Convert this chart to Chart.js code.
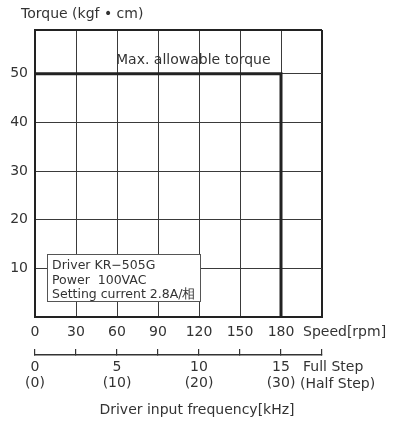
<!DOCTYPE html>
<html>
<head>
<meta charset="utf-8">
<script src="https://cdn.jsdelivr.net/npm/chart.js@4/dist/chart.umd.min.js"></script>
<style>
  html, body { margin: 0; padding: 0; background: #fff; }
  canvas { display: block; }
</style>
</head>
<body>
<canvas id="c" width="400" height="421"></canvas>
<script>
// ---- data ----
const speedRpm = [0, 180, 180];          // speed of the torque curve points [rpm]
const torqueKgfCm = [50, 50, 0];         // torque of the curve points [kgf·cm]
const speedTicks = [0, 30, 60, 90, 120, 150, 180];
const torqueTicks = [10, 20, 30, 40, 50];
const fullStepKHz = [0, 5, 10, 15];      // full step frequency labels
const halfStepKHz = [0, 10, 20, 30];     // half step frequency labels
const rpmPerKHz = 12;                    // 15 kHz full step = 180 rpm
const speedMax = 210;
const torqueMax = 59;
const yTitle = 'Torque (kgf • cm)';
const curveLabel = 'Max. allowable torque';
const xUnit = 'Speed[rpm]';
const fullStepName = 'Full Step';
const halfStepName = '(Half Step)';
const freqTitle = 'Driver input frequency[kHz]';
const infoLines = ['Driver KR\u2212505G', 'Power  100VAC', 'Setting current 2.8A/相'];

const FONT = '"DejaVu Sans", sans-serif';
const TXT = '#333';

const annot = {
  id: 'annot',
  afterDraw(chart) {
    const { ctx, chartArea: a, scales: { x, y } } = chart;
    ctx.save();
    ctx.fillStyle = TXT;
    ctx.font = '14px ' + FONT;
    ctx.textAlign = 'left';
    ctx.textBaseline = 'alphabetic';
    // y title
    ctx.fillText(yTitle, a.left - 14, a.top - 12);
    // curve label
    ctx.fillText(curveLabel, x.getPixelForValue(60) - 1, y.getPixelForValue(50) - 10);
    // speed unit
    ctx.textBaseline = 'middle';
    ctx.fillText(xUnit, x.getPixelForValue(180) + 22, 332);
    // step names
    ctx.fillText(fullStepName, a.right - 19, 367);
    ctx.fillText(halfStepName, a.right - 22, 384);
    // frequency title
    ctx.textAlign = 'center';
    ctx.fillText(freqTitle, 197, 410);
    // info box
    const bx = a.left + 12.5, by = a.bottom - 62.5, bw = 153, bh = 47;
    ctx.fillStyle = '#fff';
    ctx.fillRect(bx, by, bw, bh);
    ctx.strokeStyle = '#555';
    ctx.lineWidth = 1;
    ctx.strokeRect(bx, by, bw, bh);
    ctx.fillStyle = TXT;
    ctx.font = '12.5px ' + FONT;
    ctx.textAlign = 'left';
    ctx.textBaseline = 'alphabetic';
    infoLines.forEach((t, i) => ctx.fillText(t, bx + 4.5, by + 14.5 + i * 14.7));
    ctx.restore();
  }
};

new Chart(document.getElementById('c'), {
  type: 'line',
  data: {
    datasets: [{
      data: speedRpm.map((s, i) => ({ x: s, y: torqueKgfCm[i] })),
      borderColor: '#222',
      borderWidth: 3,
      pointRadius: 0,
      tension: 0,
      fill: false,
      borderCapStyle: 'square',
      borderJoinStyle: 'miter'
    }]
  },
  options: {
    responsive: false,
    animation: false,
    layout: { padding: { top: 30, right: 78, bottom: 0, left: 0 } },
    plugins: { legend: { display: false }, tooltip: { enabled: false }, title: { display: false } },
    scales: {
      x: {
        type: 'linear', position: 'bottom', weight: 0,
        min: 0, max: speedMax,
        afterBuildTicks: s => { s.ticks = speedTicks.concat([speedMax]).map(v => ({ value: v })); },
        afterFit: s => { s.height = 38; },
        ticks: {
          autoSkip: false, maxRotation: 0, padding: 7, color: TXT,
          font: { family: FONT, size: 14 },
          callback: v => speedTicks.includes(v) ? String(v) : ''
        },
        grid: {
          drawTicks: false,
          color: c => c.tick && c.tick.value === speedMax ? '#222' : '#3a3a3a',
          lineWidth: c => c.tick && c.tick.value === speedMax ? 2 : 1
        },
        border: { display: true, color: '#222', width: 2 }
      },
      x2: {
        type: 'linear', position: 'bottom', weight: 1,
        min: 0, max: speedMax / rpmPerKHz,
        afterBuildTicks: s => {
          const t = [];
          for (let i = 0; i <= speedTicks.length; i++) t.push({ value: i * 30 / rpmPerKHz });
          s.ticks = t;
        },
        afterFit: s => { s.height = 66; },
        ticks: {
          autoSkip: false, maxRotation: 0, padding: 9.5, color: TXT,
          font: { family: FONT, size: 14, lineHeight: 1.2 },
          callback: v => {
            const i = fullStepKHz.indexOf(v);
            return i >= 0 ? [String(fullStepKHz[i]), '(' + halfStepKHz[i] + ')'] : '';
          }
        },
        grid: { drawOnChartArea: false, drawTicks: true, tickLength: -6, color: '#333', lineWidth: 1.2 },
        border: { display: true, color: '#333', width: 1.5 }
      },
      y: {
        type: 'linear', position: 'left',
        min: 0, max: torqueMax,
        afterBuildTicks: s => { s.ticks = [0].concat(torqueTicks, [torqueMax]).map(v => ({ value: v })); },
        afterFit: s => { s.width = 35; },
        ticks: {
          padding: 7, color: TXT,
          font: { family: FONT, size: 14 },
          callback: v => torqueTicks.includes(v) ? String(v) : ''
        },
        grid: {
          drawTicks: false,
          color: c => c.tick && c.tick.value === torqueMax ? '#222' : '#3a3a3a',
          lineWidth: c => c.tick && c.tick.value === torqueMax ? 2 : 1
        },
        border: { display: true, color: '#222', width: 2 }
      }
    }
  },
  plugins: [annot]
});
</script>
</body>
</html>
